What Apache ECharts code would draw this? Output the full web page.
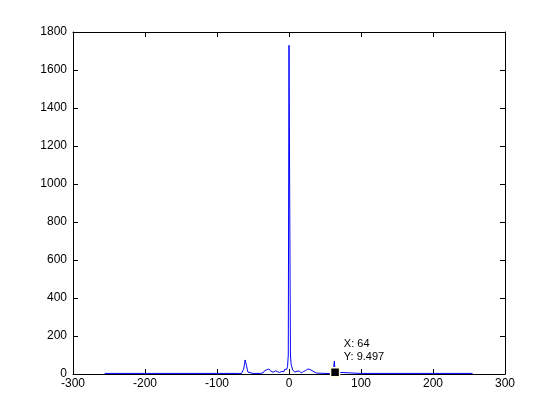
<!DOCTYPE html>
<html>
<head>
<meta charset="utf-8">
<script src="https://cdn.jsdelivr.net/npm/echarts@6/dist/echarts.min.js"></script>
<style>
html,body{margin:0;padding:0;background:#fff;}
#chart{width:560px;height:420px;}
</style>
</head>
<body>
<div id="chart"></div>
<script>
// Sample positions (frequency bins) and magnitudes
var binX = [-256,-200,-150,-100,-70,-66,-65,-64,-63,-62,-61,-60,-59,-58,-57,-56,-50,-40,-38,-36,
  -35,-34,-33,-32,-31,-30,-29,-28,-27,-26,-25,-24,-23,-22,-21,-20,-19,-18,-17,-16,-15,-14,-13,-12,-11,-10,
  -9,-8,-7,-6,-5,-4,-3,-2,-1,0,1,2,3,4,5,6,7,8,9,10,11,12,13,14,15,16,17,18,19,20,21,22,23,24,25,26,27,28,
  29,30,31,32,33,34,35,36,37,38,39,40,50,58,59,60,61,62,63,64,65,66,100,150,200,255];
var magY = [3,3,3,3,3,3,4,10,25,48,74,60,45,25,10,4,3,3,3,6,
  10,17,18,20,22,25,26,26,24,20,15,12,10,9,12,15,17,18,17,12,7,5,8,13,17,14,
  8,5,12,24,28,20,25,40,100,1730,906,100,50,40,22,20,18,10,6,8,14,17,18,16,12,8,6,10,14,13,10,12,18,22,25,26,27,25,
  24,22,20,18,14,12,11,10,7,5,3,3,3,3,4,7,15,32,68,9.497,4,3,3,3,3,3];
var xTicks = [-300,-200,-100,0,100,200,300];
var yTicks = [0,200,400,600,800,1000,1200,1400,1600,1800];
var tipX = 64, tipY = 9.497;

var pts = binX.map(function(x,i){return [x, magY[i]];});
var fontFam = '"Liberation Sans", Arial, Helvetica, sans-serif';
var axisCommon = function(ticks, pos, showLabel){
  return {
    type:'value', position: pos,
    min: ticks[0], max: ticks[ticks.length-1], interval: ticks[1]-ticks[0],
    axisLine:{show:true, onZero:false, lineStyle:{color:'#000', width:1}},
    axisTick:{show:true, inside:true, length:5, lineStyle:{color:'#000'}},
    axisLabel:{show:showLabel, color:'#000', fontSize:12, fontFamily:fontFam,
      margin: (pos==='bottom'||pos==='top') ? 4 : 6,
      formatter: function(v){ return String(v); }},
    splitLine:{show:false}
  };
};
var chart = echarts.init(document.getElementById('chart'), null, {renderer:'canvas'});
chart.setOption({
  animation:false,
  backgroundColor:'#fff',
  grid:{left:73, right:55, top:32, bottom:46, show:false},
  xAxis:[axisCommon(xTicks,'bottom',true), axisCommon(xTicks,'top',false)],
  yAxis:[axisCommon(yTicks,'left',true), axisCommon(yTicks,'right',false)],
  series:[{
    type:'line', data: pts, showSymbol:false, symbol:'none',
    lineStyle:{color:'#0000ff', width:1},
    markPoint:{
      symbol:'rect', symbolSize:9,
      itemStyle:{color:'#000', borderColor:'#ffffe0', borderWidth:1.5},
      data:[{coord:[tipX, tipY]}],
      label:{show:true, position:[14,-30], align:'left', verticalAlign:'top',
        color:'#000', fontSize:11, fontFamily:fontFam, lineHeight:13.5,
        formatter: 'X: ' + tipX + '\nY: ' + tipY}
    }
  }]
});
</script>
</body>
</html>
